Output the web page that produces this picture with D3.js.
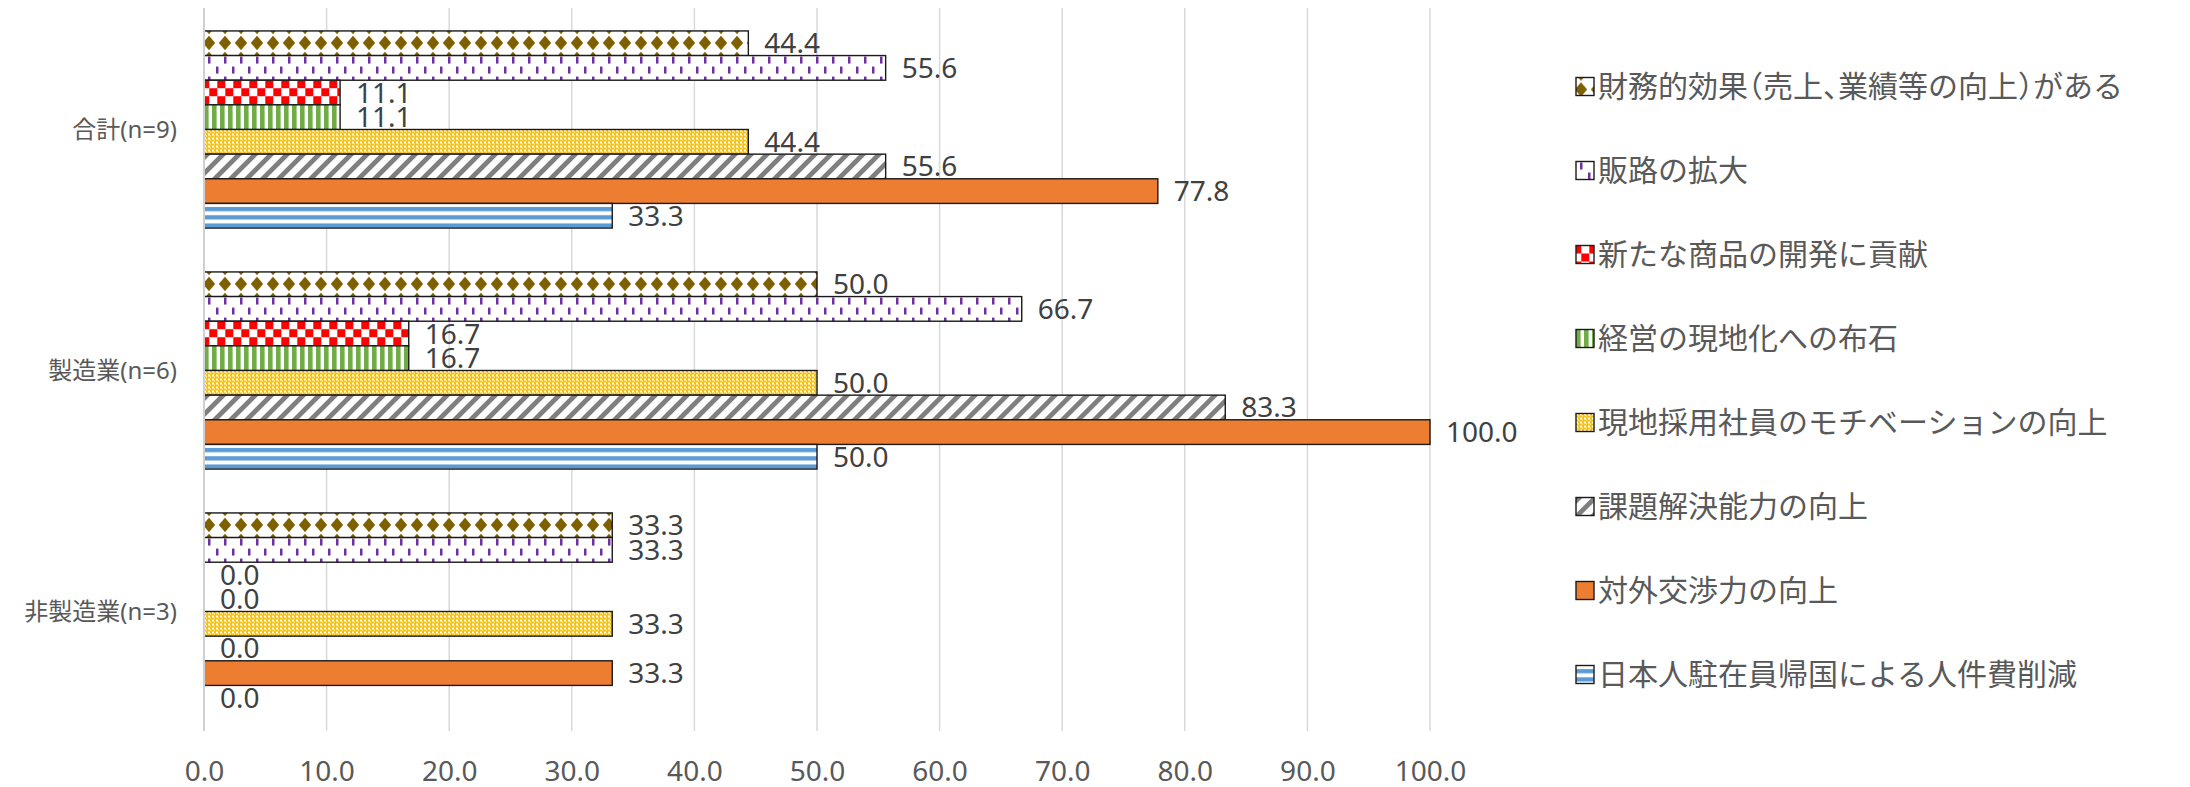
<!DOCTYPE html>
<html>
<head>
<meta charset="utf-8">
<script src="https://cdn.jsdelivr.net/npm/d3@7"></script>
<style>
  html, body { margin: 0; padding: 0; background: #ffffff; }
  svg { display: block; }
  .legend-text.narrow-punct { font-feature-settings: "halt"; }
</style>
</head>
<body>
<script>
// Categories (respondent groups) and series (reported effects)
const categories = ["合計(n=9)", "製造業(n=6)", "非製造業(n=3)"];
const seriesNames = [
  "財務的効果（売上、業績等の向上）がある",
  "販路の拡大",
  "新たな商品の開発に貢献",
  "経営の現地化への布石",
  "現地採用社員のモチベーションの向上",
  "課題解決能力の向上",
  "対外交渉力の向上",
  "日本人駐在員帰国による人件費削減"
];

// Values (%) per series, in category order
const vFinancial      = [44.4, 50.0, 33.3];
const vSalesChannel   = [55.6, 66.7, 33.3];
const vNewProduct     = [11.1, 16.7, 0.0];
const vLocalization   = [11.1, 16.7, 0.0];
const vMotivation     = [44.4, 50.0, 33.3];
const vProblemSolving = [55.6, 83.3, 0.0];
const vNegotiation    = [77.8, 100.0, 33.3];
const vCostReduction  = [33.3, 50.0, 0.0];

const xTicks = [0, 10, 20, 30, 40, 50, 60, 70, 80, 90, 100];

const seriesValues = [vFinancial, vSalesChannel, vNewProduct, vLocalization,
                      vMotivation, vProblemSolving, vNegotiation, vCostReduction];

const W = 2190, H = 787;
const svg = d3.select("body").append("svg").attr("width", W).attr("height", H);
const defs = svg.append("defs");

// ---- fill patterns ----
function pattern(id, w, h, attrs) {
  const p = defs.append("pattern").attr("id", id)
    .attr("patternUnits", "userSpaceOnUse")
    .attr("width", w).attr("height", h);
  if (attrs) Object.entries(attrs).forEach(([k, v]) => p.attr(k, v));
  p.append("rect").attr("width", w).attr("height", h).attr("fill", "#ffffff");
  return p;
}
// solid diamonds
let p = pattern("pDiamond", 16, 16, { x: -3, y: 4 });
p.append("path").attr("d", "M8,0.8 L14.2,8 L8,15.2 L1.8,8 Z").attr("fill", "#7F6000");
// dashed vertical
p = pattern("pDash", 16, 20, { x: 0, y: 0 });
p.append("rect").attr("x", 4).attr("y", 1).attr("width", 2.5).attr("height", 7).attr("fill", "#7030A0");
p.append("rect").attr("x", 12).attr("y", 11).attr("width", 2.5).attr("height", 7).attr("fill", "#7030A0");
// large checkerboard
p = pattern("pCheck", 16, 16, { x: -2.7, y: 0 });
p.append("rect").attr("x", 0).attr("y", 0).attr("width", 8).attr("height", 8).attr("fill", "#FF0000");
p.append("rect").attr("x", 8).attr("y", 8).attr("width", 8).attr("height", 8).attr("fill", "#FF0000");
// vertical stripes
p = pattern("pVert", 8, 8, {});
p.append("rect").attr("x", 0).attr("y", 0).attr("width", 4.6).attr("height", 8).attr("fill", "#70AD47");
// fine checker
p = pattern("pFine", 4, 4, {});
p.select("rect").attr("fill", "#FFC000");
p.append("rect").attr("x", 0).attr("y", 0).attr("width", 2).attr("height", 2).attr("fill", "#ffffff");
p.append("rect").attr("x", 2).attr("y", 2).attr("width", 1).attr("height", 1).attr("fill", "#ffffff");
// wide upward diagonal
p = pattern("pDiag", 11.31, 11.31, { patternTransform: "rotate(45)" });
p.append("rect").attr("x", 0).attr("y", 0).attr("width", 4.8).attr("height", 11.31).attr("fill", "#7F7F7F");
// wide horizontal stripes
p = pattern("pHoriz", 16, 8.2, {});
p.append("rect").attr("x", 0).attr("y", 3.6).attr("width", 16).attr("height", 4.2).attr("fill", "#5B9BD5");

const fills = ["url(#pDiamond)", "url(#pDash)", "url(#pCheck)", "url(#pVert)",
               "url(#pFine)", "url(#pDiag)", "#ED7D31", "url(#pHoriz)"];

// ---- scales ----
const x = d3.scaleLinear().domain([0, 100]).range([204, 1430]);
const y0 = d3.scaleBand().domain(categories).range([9, 732])
  .paddingInner(0.182).paddingOuter(0.091);
const y1 = d3.scaleBand().domain(seriesNames).range([0, y0.bandwidth()]);

const plotTop = 8, plotBottom = 731;

// ---- gridlines ----
svg.append("g").selectAll("line").data(xTicks.filter(d => d > 0)).join("line")
  .attr("x1", d => x(d)).attr("x2", d => x(d))
  .attr("y1", plotTop).attr("y2", plotBottom)
  .attr("stroke", "#D9D9D9").attr("stroke-width", 1.5);

// ---- bottom axis labels ----
const xAxis = d3.axisBottom(x).tickValues(xTicks).tickFormat(d3.format(".1f")).tickSize(0).tickPadding(0);
const gx = svg.append("g").attr("transform", `translate(0,${plotBottom})`).call(xAxis);
gx.select(".domain").remove();
gx.selectAll("text")
  .attr("dy", null).attr("y", 50)
  .attr("font-family", "'Noto Sans', 'Noto Sans CJK JP', sans-serif")
  .attr("font-size", 28).attr("fill", "#595959");

// ---- bars ----
const fmt = d3.format(".1f");
const gCats = svg.append("g").selectAll("g").data(categories).join("g")
  .attr("transform", d => `translate(0,${y0(d)})`);

gCats.each(function(cat, ci) {
  const g = d3.select(this);
  seriesNames.forEach((s, si) => {
    const v = seriesValues[si][ci];
    const by = y1(s), bh = y1.bandwidth();
    if (v > 0) {
      g.append("g").attr("transform", `translate(${x(0)},${by})`)
        .append("rect")
        .attr("x", 0).attr("y", 0)
        .attr("width", x(v) - x(0)).attr("height", bh)
        .attr("fill", fills[si])
        .attr("stroke", "#1a1a1a").attr("stroke-width", 1.4);
    }
    g.append("text")
      .attr("x", x(v) + 16).attr("y", by + bh / 2 + 10)
      .attr("font-family", "'Noto Sans', 'Noto Sans CJK JP', sans-serif")
      .attr("font-size", 28).attr("fill", "#404040")
      .text(fmt(v));
  });
});

// ---- category axis line and labels ----
svg.append("line")
  .attr("x1", x(0)).attr("x2", x(0)).attr("y1", plotTop).attr("y2", plotBottom)
  .attr("stroke", "#D0D0D0").attr("stroke-width", 2);

svg.append("g").selectAll("text").data(categories).join("text")
  .attr("x", 177).attr("y", d => y0(d) + y0.bandwidth() / 2)
  .attr("dy", "0.35em")
  .attr("text-anchor", "end")
  .attr("font-family", "'Noto Sans', 'Noto Sans CJK JP', sans-serif")
  .attr("font-size", 24).attr("fill", "#595959")
  .text(d => d);

// ---- legend ----
const legend = svg.append("g").selectAll("g").data(seriesNames).join("g")
  .attr("transform", (d, i) => `translate(1576,${86.5 + i * 84})`);
legend.append("g").attr("transform", "translate(0,-9)")
  .append("rect").attr("width", 18).attr("height", 18)
  .attr("fill", (d, i) => fills[i])
  .attr("stroke", "#1a1a1a").attr("stroke-width", 1.4);
legend.append("text")
  .attr("class", d => /[（）、]/.test(d) ? "legend-text narrow-punct" : "legend-text")
  .attr("x", 22).attr("y", 0).attr("dy", "0.36em")
  .attr("font-family", "'Noto Sans CJK JP', sans-serif")
  .attr("font-size", 30).attr("fill", "#595959")
  .text(d => d);
</script>
</body>
</html>
